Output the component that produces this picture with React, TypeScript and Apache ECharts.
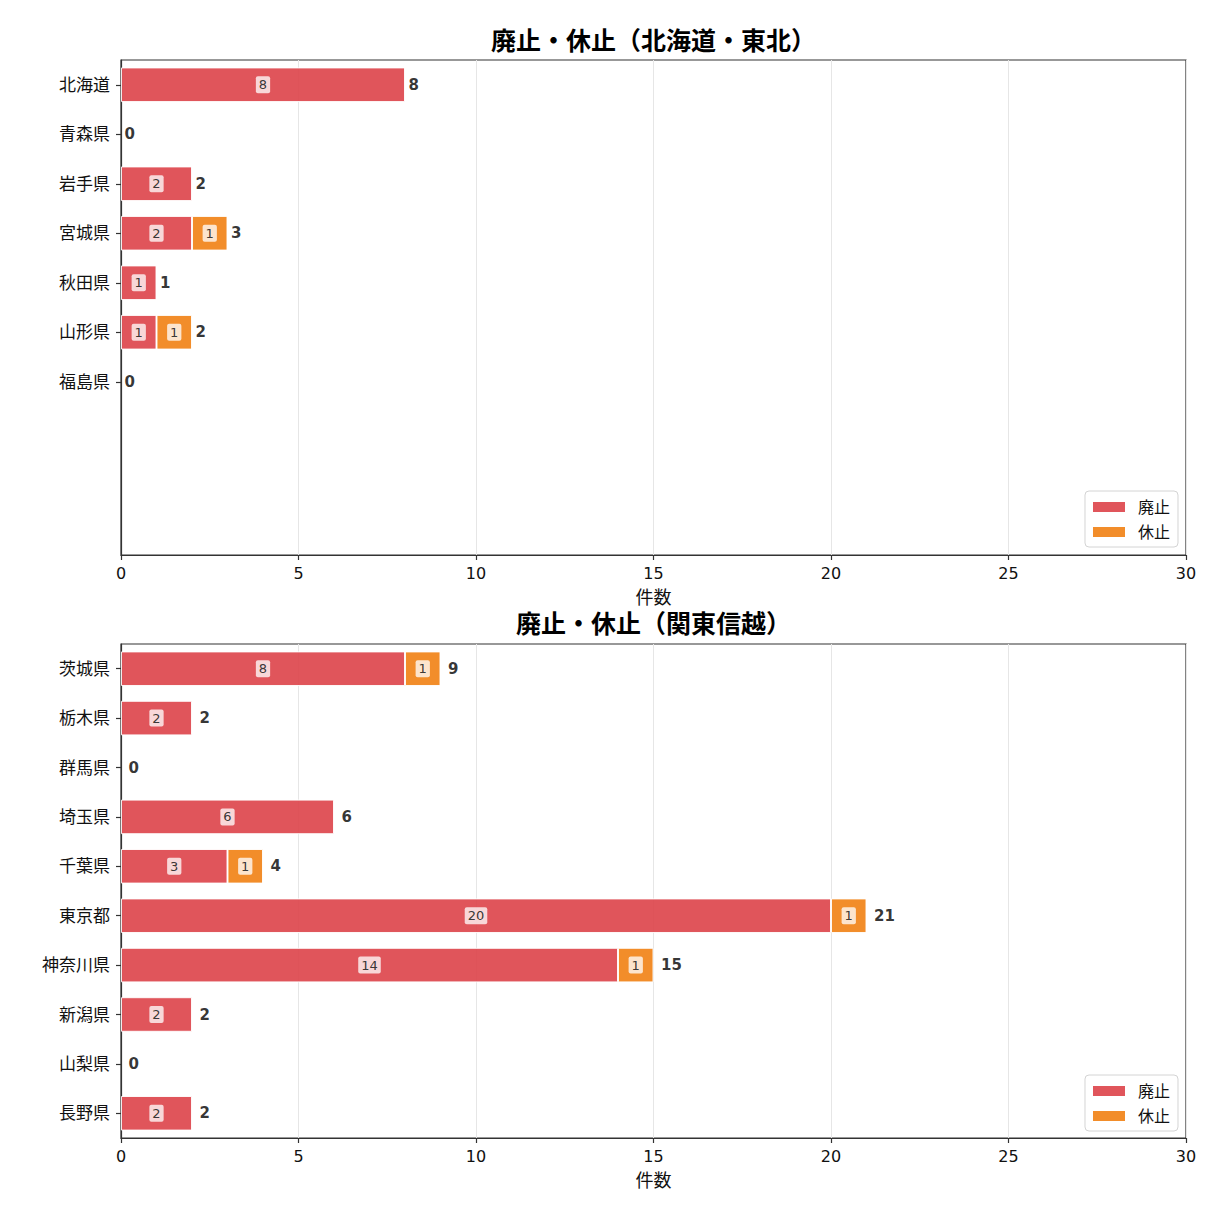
import React, { useEffect, useRef } from 'react';
import * as echarts from 'echarts';

const FONT = '"DejaVu Sans", "Noto Sans CJK JP", sans-serif';

const titles = ['廃止・休止（北海道・東北）', '廃止・休止（関東信越）'];
const seriesNames = ['廃止', '休止'];
const xAxisName = '件数';

const topCategories = ['北海道', '青森県', '岩手県', '宮城県', '秋田県', '山形県', '福島県'];
const topHaishi = [8, 0, 2, 2, 1, 1, 0];
const topKyushi = [0, 0, 0, 1, 0, 1, 0];

const bottomCategories = ['茨城県', '栃木県', '群馬県', '埼玉県', '千葉県', '東京都', '神奈川県', '新潟県', '山梨県', '長野県'];
const bottomHaishi = [8, 2, 0, 6, 3, 20, 14, 2, 0, 2];
const bottomKyushi = [1, 0, 0, 0, 1, 1, 1, 0, 0, 0];

const xMin = 0;
const xMax = 30;
const xInterval = 5;
const slotCount = 10;

const RED = '#DD4349';
const ORANGE = '#F18113';

function padCategories(cats: string[]): string[] {
  const out = cats.slice();
  let k = 1;
  while (out.length < slotCount) {
    out.push(' '.repeat(k));
    k++;
  }
  return out;
}

const panels = [
  { cats: topCategories, haishi: topHaishi, kyushi: topKyushi, top: 60, height: 495, totalGap: 3, legendTop: 491, titleY: 41 },
  { cats: bottomCategories, haishi: bottomHaishi, kyushi: bottomKyushi, top: 644, height: 494, totalGap: 7, legendTop: 1075, titleY: 624 },
];

export default function App() {
  const ref = useRef<HTMLDivElement>(null);

  useEffect(() => {
    if (!ref.current) return;
    const chart = echarts.init(ref.current, undefined, { renderer: 'svg' });

    const grids: any[] = [];
    const xAxes: any[] = [];
    const yAxes: any[] = [];
    const series: any[] = [];
    const legends: any[] = [];
    const graphics: any[] = [];

    const innerLabel = {
      show: true,
      position: 'inside',
      color: '#222',
      fontSize: 13,
      fontFamily: FONT,
      backgroundColor: 'rgba(255,255,255,0.85)',
      borderRadius: 2,
      padding: [2, 3, 2, 3],
    };

    panels.forEach((p, i) => {
      grids.push({
        left: 121,
        top: p.top,
        width: 1065,
        height: p.height,
        show: true,
        borderColor: '#333',
        borderWidth: 1.2,
        backgroundColor: 'transparent',
      });
      xAxes.push({
        type: 'value',
        gridIndex: i,
        min: xMin,
        max: xMax,
        interval: xInterval,
        axisLine: { show: true, lineStyle: { color: '#333', width: 1.2 } },
        axisTick: { show: true, length: 5, lineStyle: { color: '#333', width: 1.2 } },
        axisLabel: { fontSize: 16, color: '#111', margin: 10, fontFamily: FONT },
        splitLine: { show: true, lineStyle: { color: '#e6e6e6', width: 1 } },
        name: xAxisName,
        nameLocation: 'middle',
        nameGap: 33,
        nameTextStyle: { fontSize: 18, color: '#111', fontFamily: FONT },
      });
      const cats = padCategories(p.cats);
      yAxes.push({
        type: 'category',
        gridIndex: i,
        inverse: true,
        data: cats,
        boundaryGap: true,
        axisLine: { show: true, lineStyle: { color: '#333', width: 1.2 } },
        axisTick: {
          show: true,
          alignWithLabel: true,
          length: 5,
          lineStyle: { color: '#333', width: 1.2 },
          interval: (_idx: number, v: string) => v.trim() !== '',
        },
        axisLabel: { fontSize: 17, color: '#111', margin: 11, fontFamily: FONT },
        splitLine: { show: false },
      });

      const mk = (vals: number[]) =>
        vals.map((v) => (v > 0 ? { value: v } : { value: '-', label: { show: false } }));

      series.push({
        type: 'bar',
        name: seriesNames[0],
        xAxisIndex: i,
        yAxisIndex: i,
        stack: 'stk' + i,
        barWidth: '70%',
        data: mk(p.haishi),
        itemStyle: { color: RED, opacity: 0.9, borderColor: '#fff', borderWidth: 1 },
        label: innerLabel,
      });
      series.push({
        type: 'bar',
        name: seriesNames[1],
        xAxisIndex: i,
        yAxisIndex: i,
        stack: 'stk' + i,
        barWidth: '70%',
        data: mk(p.kyushi),
        itemStyle: { color: ORANGE, opacity: 0.9, borderColor: '#fff', borderWidth: 1 },
        label: innerLabel,
      });
      const totals = p.haishi.map((v, idx) => v + p.kyushi[idx]);
      series.push({
        type: 'scatter',
        xAxisIndex: i,
        yAxisIndex: i,
        symbolSize: 1,
        itemStyle: { color: 'rgba(0,0,0,0)' },
        data: totals.map((t, idx) => [t, idx]),
        label: {
          show: true,
          position: 'right',
          distance: p.totalGap,
          formatter: (prm: any) => String(prm.value[0]),
          fontSize: 15,
          fontWeight: 'bold',
          color: '#000',
          fontFamily: FONT,
        },
        z: 5,
      });

      legends.push({
        data: seriesNames,
        orient: 'vertical',
        right: 33,
        top: p.legendTop,
        icon: 'rect',
        itemWidth: 32,
        itemHeight: 10,
        itemGap: 9,
        padding: [8, 8, 7, 8],
        borderColor: '#d4d4d4',
        borderWidth: 1,
        borderRadius: 4,
        backgroundColor: '#fff',
        itemStyle: { borderWidth: 0 },
        textStyle: { fontSize: 16, color: '#111', fontFamily: FONT, padding: [0, 0, 0, 8] },
      });

      graphics.push({
        type: 'text',
        x: 653.5,
        y: p.titleY,
        style: {
          text: titles[i],
          textAlign: 'center',
          textVerticalAlign: 'middle',
          fontSize: 25,
          fontWeight: 'bold',
          fontFamily: FONT,
          fill: '#000',
        },
      });
    });

    chart.setOption({
      animation: false,
      backgroundColor: '#fff',
      grid: grids,
      xAxis: xAxes,
      yAxis: yAxes,
      series,
      legend: legends,
      graphic: graphics,
    });

    return () => chart.dispose();
  }, []);

  return (
    <div
      ref={ref}
      style={{ position: 'absolute', left: 0, top: 0, width: 1211, height: 1211 }}
    />
  );
}
